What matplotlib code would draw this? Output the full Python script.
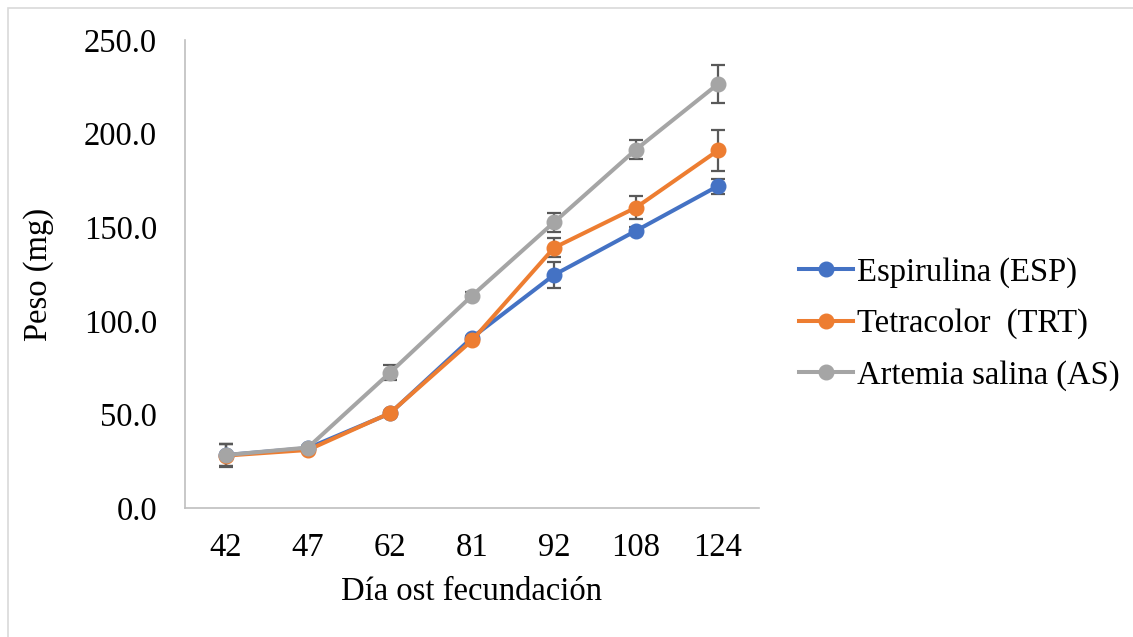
import matplotlib
matplotlib.use("Agg")
import matplotlib.pyplot as plt
from matplotlib.patches import Rectangle

days = ["42", "47", "62", "81", "92", "108", "124"]

esp = [28.3, 32.0, 50.5, 91.0, 124.5, 148.1, 172.0]
esp_err = [6, 1, 1, 1, 7, 2, 4]

trt = [28.0, 31.0, 50.7, 89.5, 139.0, 160.5, 191.0]
trt_err = [6, 1, 1, 1, 5, 6, 11]

art = [28.3, 32.3, 72.3, 113.4, 152.6, 191.5, 226.5]
art_err = [6, 1, 4, 2, 5, 5, 10]

series_names = ["Espirulina (ESP)", "Tetracolor  (TRT)", "Artemia salina (AS)"]
colors = ["#4472C4", "#ED7D31", "#A5A5A5"]

plt.rcParams["font.family"] = ["Liberation Serif", "DejaVu Serif"]
FS = 23.5


def main():
    fig = plt.figure(figsize=(11.33, 6.37), dpi=100)
    W, H = 1133, 637
    ax = fig.add_axes([185 / W, 1 - 508 / H, 574 / W, 468 / H])

    # outer chart border (Excel chart area)
    fig.patches.append(Rectangle((8 / W, -0.1), 1.2, 1 - 7.5 / H + 0.1,
                                 transform=fig.transFigure, fill=False,
                                 edgecolor="#D9D9D9", linewidth=1.2))

    x = list(range(len(days)))
    for vals, errs, name, c in zip([esp, trt, art], [esp_err, trt_err, art_err],
                                   series_names, colors):
        ax.errorbar(x, vals, yerr=errs, color=c, ecolor="#595959",
                    elinewidth=1.6, capsize=5, capthick=1.6,
                    linewidth=2.9, marker="o", markersize=10.5, label=name)

    ax.set_xlim(-0.5, len(days) - 0.5)
    ax.set_ylim(0, 250)
    ax.set_xticks(x)
    ax.set_xticklabels(days)
    ax.set_yticks([0, 50, 100, 150, 200, 250])
    ax.set_yticklabels(["%.1f" % v for v in [0, 50, 100, 150, 200, 250]])
    ax.tick_params(axis="both", length=0, labelsize=FS)
    ax.tick_params(axis="y", pad=20)
    ax.tick_params(axis="x", pad=18)

    for s in ["top", "right"]:
        ax.spines[s].set_visible(False)
    for s in ["left", "bottom"]:
        ax.spines[s].set_color("#BFBFBF")
        ax.spines[s].set_linewidth(1.2)

    ax.set_ylabel("Peso (mg)", fontsize=FS)
    ax.yaxis.set_label_coords(-0.228, 0.5)
    ax.set_xlabel("Día ost fecundación", fontsize=FS)
    ax.xaxis.set_label_coords(0.5, -0.147)

    handles, labels = ax.get_legend_handles_labels()
    handles = [h[0] for h in handles]
    ax.legend(handles, labels, loc="center left", bbox_to_anchor=(786 / W, 1 - 324 / H),
              bbox_transform=fig.transFigure, frameon=False, fontsize=FS,
              handlelength=1.65, handletextpad=0.12, labelspacing=0.63,
              borderaxespad=0)

    fig.savefig("out.png", dpi=100)


if __name__ == '__main__':
    main()
